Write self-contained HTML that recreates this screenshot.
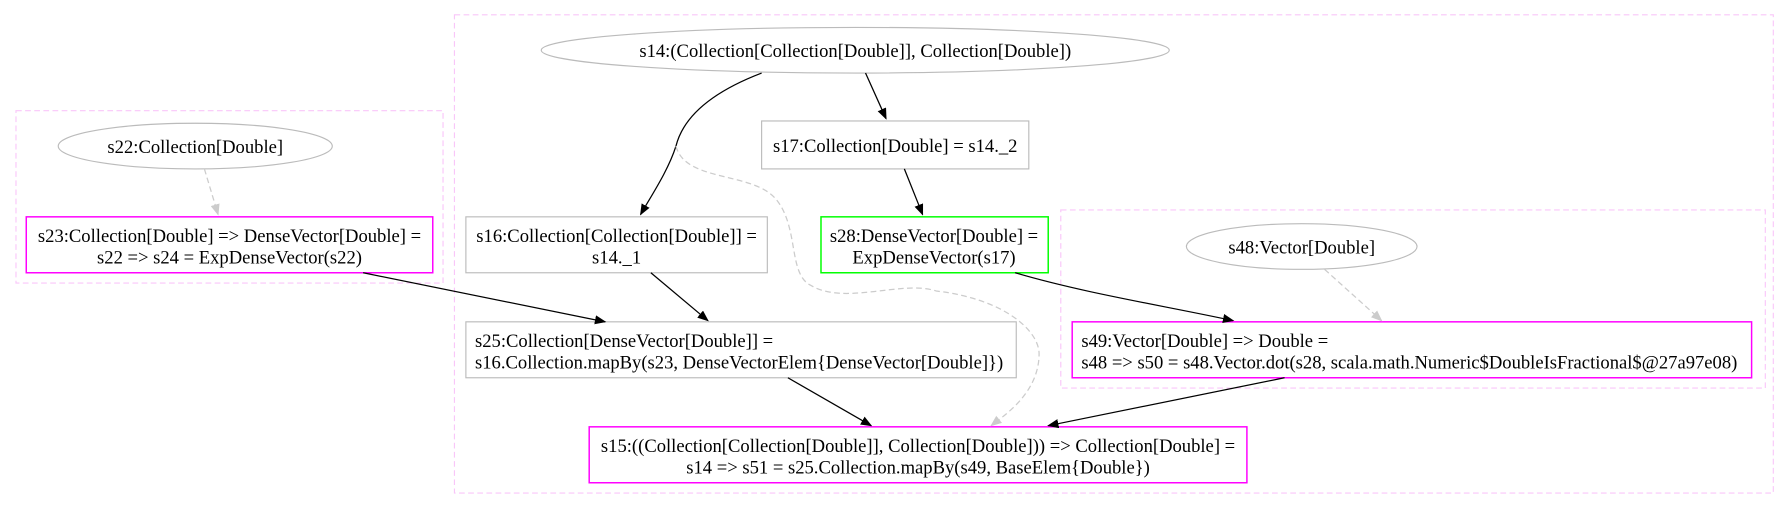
<!DOCTYPE html>
<html><head><style>html,body{margin:0;padding:0;background:#fff}svg{display:block}</style></head><body>
<svg width="1787" height="509" viewBox="0 0 1565 446" preserveAspectRatio="none" xmlns="http://www.w3.org/2000/svg" font-family="Liberation Serif, serif" font-size="16.3">
<defs>
<marker id="a" markerWidth="10" markerHeight="8" refX="9" refY="4" orient="auto" markerUnits="userSpaceOnUse"><path d="M0,0 L10,4 L0,8z" fill="#000"/></marker>
<marker id="g" markerWidth="10" markerHeight="8" refX="9" refY="4" orient="auto" markerUnits="userSpaceOnUse"><path d="M0,0 L10,4 L0,8z" fill="#ccc"/></marker>
</defs>
<g fill="none" stroke="#f9c6f9" stroke-dasharray="5,3">
<rect x="398" y="13" width="1155" height="419"/>
<rect x="14" y="97" width="374" height="151"/>
<rect x="929" y="184" width="617" height="156"/>
</g>
<g fill="none" stroke="#bbb">
<ellipse cx="749" cy="44" rx="275" ry="20"/>
<ellipse cx="171" cy="128" rx="120" ry="20"/>
<ellipse cx="1140" cy="216" rx="101" ry="20"/>
<rect x="667" y="106" width="234" height="42"/>
<rect x="408" y="190" width="264" height="49"/>
<rect x="408" y="282" width="482" height="49"/>
</g>
<g fill="none" stroke="#f0f" stroke-width="1.3">
<rect x="23" y="190" width="356" height="49"/>
<rect x="939" y="282" width="595" height="49"/>
<rect x="516" y="374" width="576" height="49"/>
</g>
<rect x="719" y="190" width="199" height="49" fill="none" stroke="#0f0" stroke-width="1.3"/>
<g fill="none" stroke="#000" stroke-width="1.1">
<path d="M667,64 C620,82 598,104 592,128 C585,150 570,172 561,188" marker-end="url(#a)"/>
<path d="M758,64 L776,104" marker-end="url(#a)"/>
<path d="M792,148 L808,188" marker-end="url(#a)"/>
<path d="M318,239 L530,282" marker-end="url(#a)"/>
<path d="M570,239 L620,281" marker-end="url(#a)"/>
<path d="M889,239 C950,257 1020,268 1080,281" marker-end="url(#a)"/>
<path d="M690,331 L763,373" marker-end="url(#a)"/>
<path d="M1125,331 L918,373" marker-end="url(#a)"/>
</g>
<g fill="none" stroke="#ccc" stroke-dasharray="5,3" stroke-width="1.1">
<path d="M179,148 L191,188" marker-end="url(#g)"/>
<path d="M1160,236 L1210,281" marker-end="url(#g)"/>
<path d="M592,128 C600,160 660,150 680,175 C700,200 690,240 710,250 C740,268 790,245 820,255 C880,262 910,290 910,310 C910,345 878,365 868,373" marker-end="url(#g)"/>
</g>
<g text-anchor="middle" fill="#000">
<text x="749" y="50">s14:(Collection[Collection[Double]], Collection[Double])</text>
<text x="171" y="134">s22:Collection[Double]</text>
<text x="1140" y="222">s48:Vector[Double]</text>
<text x="784" y="133">s17:Collection[Double] = s14._2</text>
<text x="201" y="212">s23:Collection[Double] =&gt; DenseVector[Double] =</text>
<text x="201" y="231">s22 =&gt; s24 = ExpDenseVector(s22)</text>
<text x="540" y="212">s16:Collection[Collection[Double]] =</text>
<text x="540" y="231">s14._1</text>
<text x="818" y="212">s28:DenseVector[Double] =</text>
<text x="818" y="231">ExpDenseVector(s17)</text>
<text x="804" y="396">s15:((Collection[Collection[Double]], Collection[Double])) =&gt; Collection[Double] =</text>
<text x="804" y="415">s14 =&gt; s51 = s25.Collection.mapBy(s49, BaseElem{Double})</text>
</g>
<g fill="#000">
<text x="416" y="304">s25:Collection[DenseVector[Double]] =</text>
<text x="416" y="323">s16.Collection.mapBy(s23, DenseVectorElem{DenseVector[Double]})</text>
<text x="947" y="304">s49:Vector[Double] =&gt; Double =</text>
<text x="947" y="323">s48 =&gt; s50 = s48.Vector.dot(s28, scala.math.Numeric$DoubleIsFractional$@27a97e08)</text>
</g>
</svg>
</body></html>
